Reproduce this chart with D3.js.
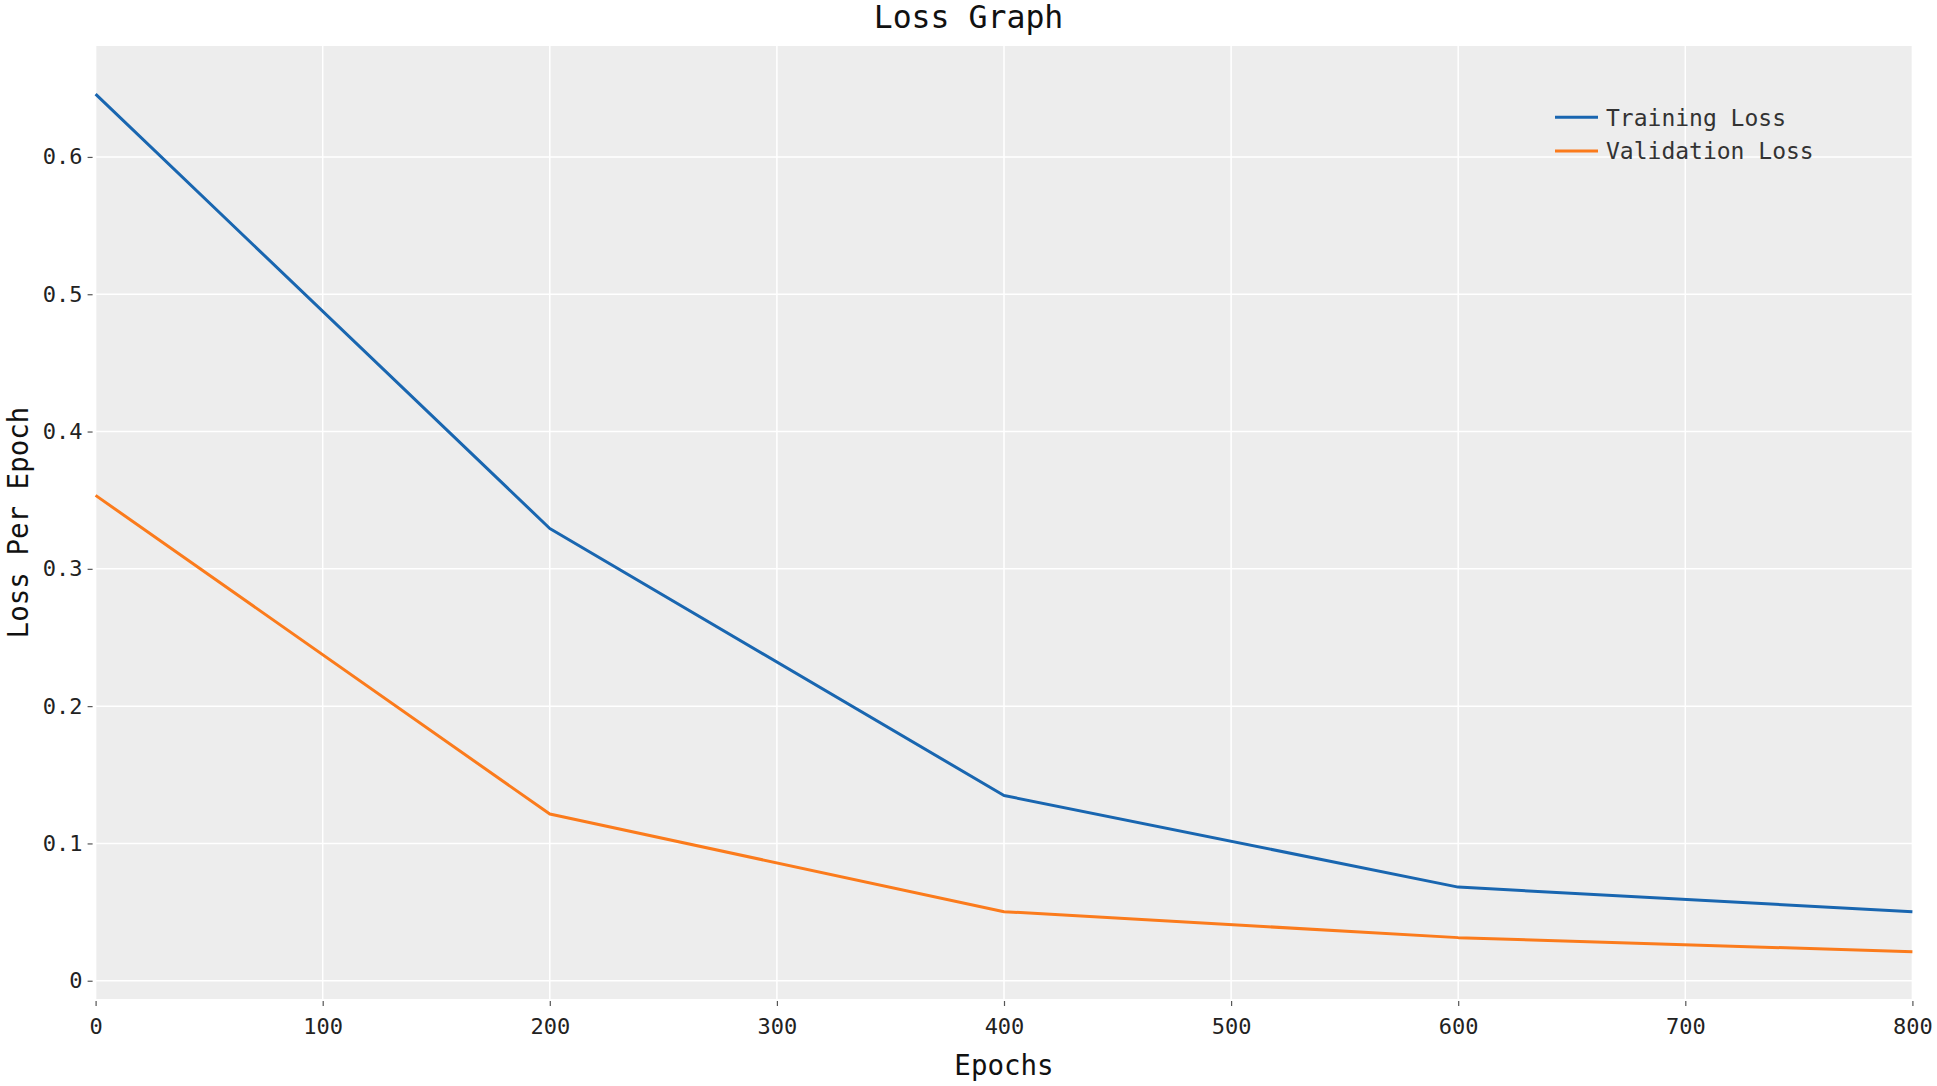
<!DOCTYPE html>
<html>
<head>
<meta charset="utf-8">
<script src="https://cdn.jsdelivr.net/npm/d3@7"></script>
<style>
  html, body { margin: 0; padding: 0; background: #fff; }
  svg { display: block; }
  text { font-family: "DejaVu Sans Mono", "Liberation Mono", monospace; }
</style>
</head>
<body>
<svg id="chart" width="1937" height="1086"></svg>
<script>
const epochs = [0, 200, 400, 600, 800];
const trainingLoss = [0.6458, 0.3294, 0.1349, 0.0682, 0.0503];
const validationLoss = [0.3535, 0.1214, 0.0503, 0.0314, 0.0211];
const xTicks = [0, 100, 200, 300, 400, 500, 600, 700, 800];
const yTicks = [0, 0.1, 0.2, 0.3, 0.4, 0.5, 0.6];
const seriesNames = ["Training Loss", "Validation Loss"];
const seriesColors = ["#1966b0", "#fb7b1c"];

const svg = d3.select("#chart");
const W = 1937, H = 1086;
const m = { left: 95.6, right: W - 1912.4, top: 46, bottom: H - 999 };

const x = d3.scaleLinear().domain([0, 800]).range([m.left, W - m.right]);
const y = d3.scaleLinear().domain([-0.0133, 0.6808]).range([H - m.bottom, m.top]);

// plot background
svg.append("rect")
  .attr("x", x.range()[0]).attr("y", m.top)
  .attr("width", x.range()[1] - x.range()[0])
  .attr("height", (H - m.bottom) - m.top)
  .attr("fill", "#ededed");

// grid
const grid = svg.append("g");
grid.selectAll("line.vx").data(xTicks).join("line")
  .attr("x1", d => x(d)).attr("x2", d => x(d))
  .attr("y1", m.top).attr("y2", H - m.bottom)
  .attr("stroke", "#fff").attr("stroke-width", 1.5);
grid.selectAll("line.hy").data(yTicks).join("line")
  .attr("y1", d => y(d)).attr("y2", d => y(d))
  .attr("x1", x.range()[0]).attr("x2", x.range()[1])
  .attr("stroke", "#fff").attr("stroke-width", 1.5);

// axes
const xAxis = d3.axisBottom(x).tickValues(xTicks).tickSize(5).tickPadding(12)
  .tickFormat(d3.format("d"));
const gx = svg.append("g").attr("transform", `translate(0,${H - m.bottom + 2})`).call(xAxis);
gx.select(".domain").remove();
gx.selectAll(".tick line").attr("stroke", "#555").attr("stroke-width", 1.2);
gx.selectAll(".tick text").attr("fill", "#222").style("font-size", "22px")
  .style("font-family", '"DejaVu Sans Mono", monospace');

const yAxis = d3.axisLeft(y).tickValues(yTicks).tickSize(5).tickPadding(5)
  .tickFormat(d => d === 0 ? "0" : d3.format(".1f")(d));
const gy = svg.append("g").attr("transform", `translate(${m.left - 3},0)`).call(yAxis);
gy.select(".domain").remove();
gy.selectAll(".tick line").attr("stroke", "#555").attr("stroke-width", 1.2);
gy.selectAll(".tick text").attr("fill", "#222").style("font-size", "22px")
  .style("font-family", '"DejaVu Sans Mono", monospace');

// lines
const line = d3.line().x((d, i) => x(epochs[i])).y(d => y(d));
[trainingLoss, validationLoss].forEach((s, k) => {
  svg.append("path").datum(s)
    .attr("d", line)
    .attr("fill", "none")
    .attr("stroke", seriesColors[k])
    .attr("stroke-width", 3)
    .attr("stroke-linejoin", "round");
});

// legend
const lg = svg.append("g");
seriesNames.forEach((name, k) => {
  const ly = 117.3 + k * 33.8;
  lg.append("line").attr("x1", 1555).attr("x2", 1598)
    .attr("y1", ly).attr("y2", ly)
    .attr("stroke", seriesColors[k]).attr("stroke-width", 3);
  lg.append("text").attr("x", 1606).attr("y", ly + 8.2)
    .attr("fill", "#333").style("font-size", "23px").text(name);
});

// title & labels
svg.append("text").attr("x", W / 2).attr("y", 28)
  .attr("text-anchor", "middle").attr("fill", "#111").style("font-size", "31.5px")
  .text("Loss Graph");
svg.append("text").attr("x", (x.range()[0] + x.range()[1]) / 2).attr("y", 1075)
  .attr("text-anchor", "middle").attr("fill", "#111").style("font-size", "27.5px")
  .text("Epochs");
svg.append("text")
  .attr("transform", `translate(28,${(m.top + H - m.bottom) / 2}) rotate(-90)`)
  .attr("text-anchor", "middle").attr("fill", "#111").style("font-size", "27.5px")
  .text("Loss Per Epoch");
</script>
</body>
</html>
